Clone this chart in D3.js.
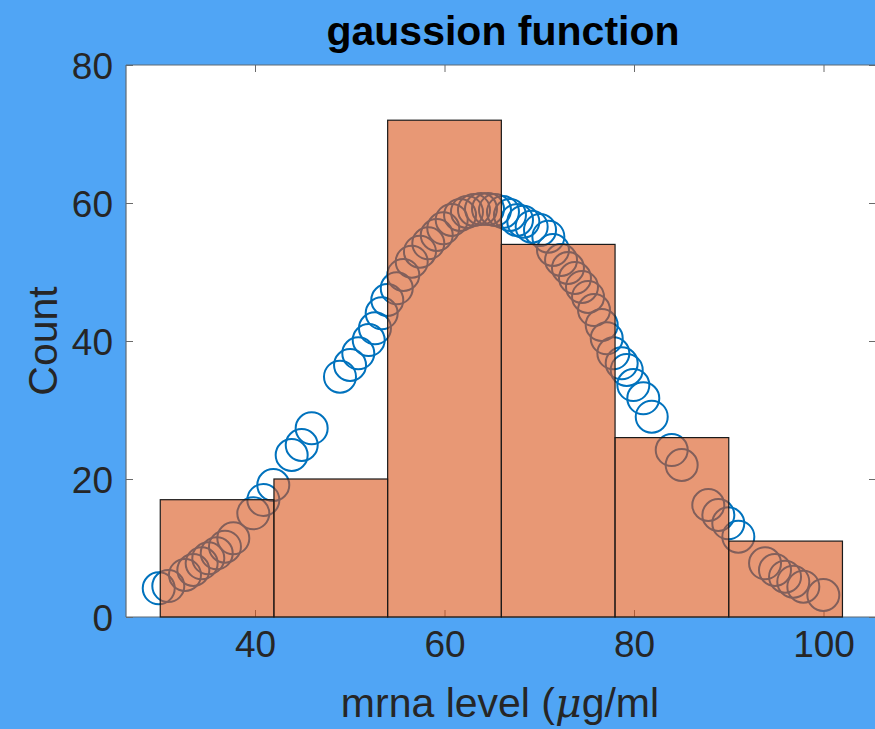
<!DOCTYPE html>
<html>
<head>
<meta charset="utf-8">
<script src="https://cdn.jsdelivr.net/npm/d3@7"></script>
<style>
  html, body { margin: 0; padding: 0; background: #50A5F5; }
  svg { display: block; }
</style>
</head>
<body>
<svg id="chart" width="875" height="729"></svg>
<script>
// ---- data ----
const titleText = "gaussion function";
const xLabelParts = ["mrna level (", "\u03BC", "g/ml"];
const yLabelText = "Count";

const binEdges = [30, 42, 54, 66, 78, 90, 102];
const binCounts = [17, 20, 72, 54, 26, 11];

const gaussX = [29.84, 30.85, 32.61, 33.49, 34.37, 35.07, 35.96, 36.83, 37.71,
  39.82, 40.88, 41.93, 43.87, 44.93, 45.98, 48.97, 50.03, 50.90, 52.00, 52.66,
  53.37, 53.96, 54.96, 55.65, 56.54, 57.41, 58.29, 59.18, 59.87, 60.76,
  61.64, 62.37, 63.11, 63.85, 64.59, 65.33, 66.17, 66.91, 67.65, 68.32,
  69.20, 70.08, 70.96, 71.45, 72.30, 73.03, 73.77, 74.51, 75.15, 75.78,
  76.59, 77.12, 77.82, 78.70, 79.23, 79.93, 80.98, 81.87, 83.98, 85.03,
  87.84, 88.90, 89.95, 91.01, 93.83, 94.88, 95.94, 96.81, 97.87, 99.98];
const gaussY = [4.16, 4.49, 6.09, 6.81, 7.78, 8.51, 9.23, 10.19, 11.41,
  15.03, 16.96, 19.13, 23.48, 24.93, 27.35, 34.83, 36.52, 38.22, 40.14, 41.84,
  44.01, 45.94, 47.64, 49.57, 51.49, 52.94, 54.16, 55.36, 56.33, 57.54,
  58.26, 58.70, 58.99, 59.13, 59.13, 58.99, 58.70, 58.26, 57.54, 57.29,
  56.57, 56.09, 55.12, 53.19, 51.74, 50.58, 49.13, 47.83, 46.38, 44.49,
  42.32, 40.39, 38.22, 36.77, 35.80, 33.62, 31.70, 29.03, 24.20, 22.03,
  16.23, 14.78, 13.58, 11.64, 7.78, 6.81, 5.84, 5.12, 4.39, 3.19];

const xTicks = [40, 60, 80, 100];
const yTicks = [0, 20, 40, 60, 80];

// ---- layout ----
const svg = d3.select("#chart");
const pLeft = 126, pRight = 876, pTop = 65, pBottom = 617;
const x = d3.scaleLinear().domain([26.385, 105.54]).range([pLeft, pRight]);
const y = d3.scaleLinear().domain([0, 80]).range([pBottom, pTop]);
const font = "'Liberation Sans', Arial, Helvetica, sans-serif";
const tickLen = 7;

// plot background
svg.append("rect").attr("x", pLeft).attr("y", pTop)
  .attr("width", pRight - pLeft).attr("height", pBottom - pTop).attr("fill", "#ffffff");

// axes (drawn below data, like MATLAB default layer)
const axG = svg.append("g");
const xAxisB = d3.axisBottom(x).tickValues(xTicks).tickSizeInner(-tickLen).tickSizeOuter(0).tickPadding(14);
const xAxisT = d3.axisTop(x).tickValues(xTicks).tickSizeInner(-tickLen).tickSizeOuter(0).tickFormat("");
const yAxisL = d3.axisLeft(y).tickValues(yTicks).tickSizeInner(-tickLen).tickSizeOuter(0).tickPadding(13);
const yAxisR = d3.axisRight(y).tickValues(yTicks).tickSizeInner(-tickLen).tickSizeOuter(0).tickFormat("");

const gb = axG.append("g").attr("transform", `translate(0,${pBottom})`).call(xAxisB);
const gt = axG.append("g").attr("transform", `translate(0,${pTop})`).call(xAxisT);
const gl = axG.append("g").attr("transform", `translate(${pLeft},0)`).call(yAxisL);
const gr = axG.append("g").attr("transform", `translate(${pRight},0)`).call(yAxisR);

[gb, gt, gl, gr].forEach(g => {
  g.select(".domain").remove();
  g.selectAll(".tick line").attr("stroke", "#6a6a6a").attr("stroke-width", 1);
  g.selectAll(".tick text").attr("fill", "#262626")
    .style("font-family", font).style("font-size", "37px");
});
gl.selectAll(".tick text").attr("dy", "0.36em");

// box lines
const boxG = svg.append("g").attr("stroke", "#5f6b75").attr("stroke-width", 1.2).attr("fill", "none");
boxG.append("line").attr("x1", pLeft).attr("x2", pRight).attr("y1", pTop).attr("y2", pTop);
boxG.append("line").attr("x1", pLeft).attr("x2", pRight).attr("y1", pBottom).attr("y2", pBottom);
boxG.append("line").attr("x1", pLeft).attr("x2", pLeft).attr("y1", pTop).attr("y2", pBottom);
boxG.append("line").attr("x1", pRight).attr("x2", pRight).attr("y1", pTop).attr("y2", pBottom);

// clip
svg.append("clipPath").attr("id", "plotclip").append("rect")
  .attr("x", pLeft).attr("y", pTop).attr("width", pRight - pLeft).attr("height", pBottom - pTop);

// scatter circles (gaussian fit)
const pts = gaussX.map((v, i) => ({ xv: v, yv: gaussY[i] }));
svg.append("g").attr("clip-path", "url(#plotclip)")
  .selectAll("circle").data(pts).join("circle")
  .attr("cx", d => x(d.xv)).attr("cy", d => y(d.yv)).attr("r", 16)
  .attr("fill", "none").attr("stroke", "#0072BD").attr("stroke-width", 2);

// histogram bars
const bins = binCounts.map((c, i) => ({ x0: binEdges[i], x1: binEdges[i + 1], c }));
svg.append("g").selectAll("rect").data(bins).join("rect")
  .attr("x", d => x(d.x0)).attr("y", d => y(d.c))
  .attr("width", d => x(d.x1) - x(d.x0)).attr("height", d => y(0) - y(d.c))
  .attr("fill", "#D95319").attr("fill-opacity", 0.6)
  .attr("stroke", "#1a1a1a").attr("stroke-width", 1.2);

// title
svg.append("text").attr("x", (pLeft + pRight) / 2 + 2).attr("y", 45)
  .attr("text-anchor", "middle").attr("fill", "#000")
  .style("font-family", font).style("font-size", "41px").style("font-weight", "bold")
  .text(titleText);

// x label
const xl = svg.append("text").attr("x", (pLeft + pRight) / 2 - 1).attr("y", 717)
  .attr("text-anchor", "middle").attr("fill", "#262626")
  .style("font-family", font).style("font-size", "41px");
xl.append("tspan").text(xLabelParts[0]);
xl.append("tspan").style("font-style", "italic").style("font-family", "'DejaVu Serif', 'Liberation Serif', serif").text(xLabelParts[1]);
xl.append("tspan").text(xLabelParts[2]);

// y label
svg.append("text").attr("transform", `translate(57,${(pTop + pBottom) / 2}) rotate(-90)`)
  .attr("text-anchor", "middle").attr("fill", "#262626")
  .style("font-family", font).style("font-size", "41px")
  .text(yLabelText);
</script>
</body>
</html>
